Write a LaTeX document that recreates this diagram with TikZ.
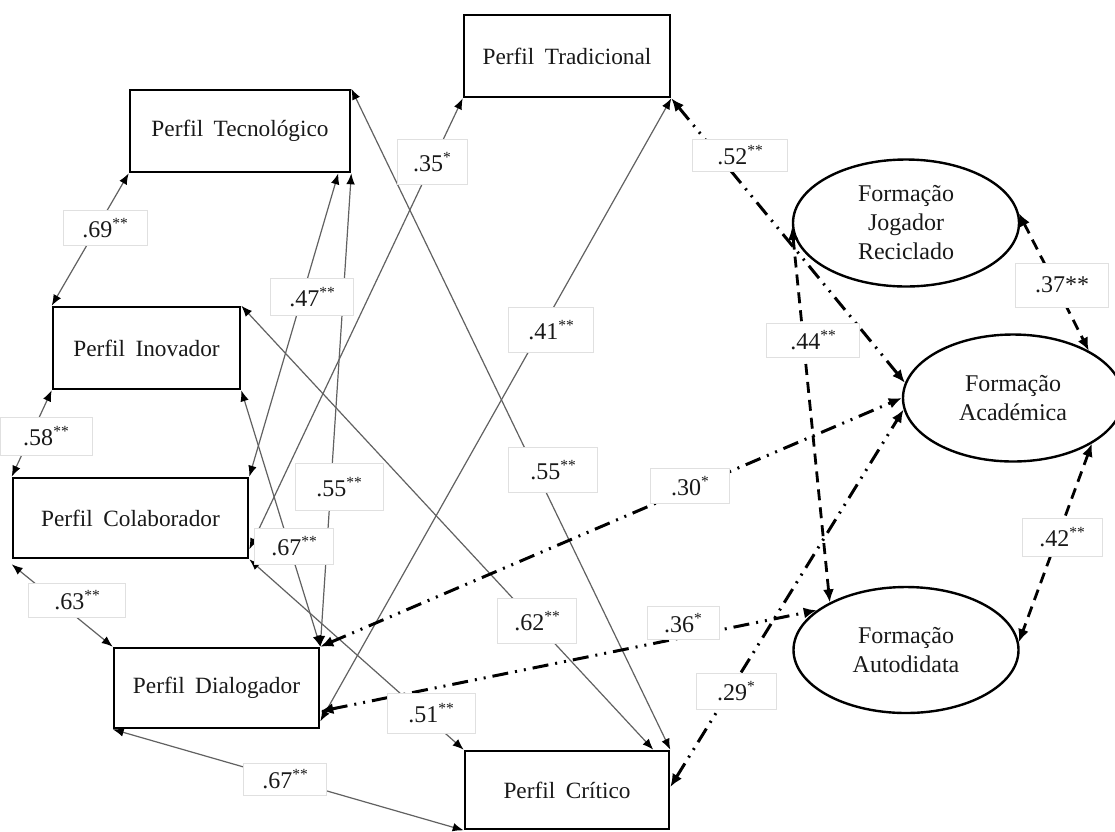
\documentclass[tikz,border=0pt]{standalone}
\usepackage{fontspec}
\setmainfont{Liberation Serif}
\usetikzlibrary{arrows.meta,shapes.geometric,calc}

% significance stars, set small and raised
\newcommand\sig[1]{\raisebox{8.5pt}{\fontsize{15.5}{15.5}\selectfont #1}}
\newcommand\wgap{\hspace{.45em}}

\tikzset{
  pbox/.style={draw=black, line width=2.6pt, inner sep=0pt, text=black!90,
    font=\fontsize{23.3}{28}\selectfont},
  ell/.style={ellipse, draw=black, line width=2.4pt, inner sep=0pt, text=black!90,
    align=center, font=\fontsize{24}{29}\selectfont},
  lbl/.style={draw=black!12, line width=0.8pt, fill=white, inner sep=0pt,
    text=black!90, font=\fontsize{24}{26}\selectfont},
  tipthin/.tip={Latex[length=11pt,width=8.5pt,color=black]},
  tipthick/.tip={Latex[length=13pt,width=11pt,color=black]},
  conn/.style={draw=black!62, line width=1.2pt, tipthin-tipthin},
  ddot/.style={draw=black, line width=3pt,
    dash pattern=on 16pt off 7pt on 2pt off 7pt on 2pt off 7pt, tipthick-tipthick},
  dsh/.style={draw=black, line width=2.8pt,
    dash pattern=on 11pt off 7pt, tipthick-tipthick},
}

\begin{document}
\begin{tikzpicture}[x=1pt,y=-1pt]
\useasboundingbox (0,0) rectangle (1115,831);
\fill[white] (0,0) rectangle (1115,831);
\clip (0,0) rectangle (1115,831);

% teaching profiles
\node[pbox, minimum width=206pt, minimum height=82pt] (trad)  at (567,56)    {Perfil\wgap Tradicional};
\node[pbox, minimum width=220pt, minimum height=82pt] (tec)   at (240,131)   {Perfil\wgap Tecnológico};
\node[pbox, minimum width=187pt, minimum height=82pt] (inov)  at (146.5,348) {Perfil\wgap Inovador};
\node[pbox, minimum width=235pt, minimum height=80pt] (colab) at (130.5,518) {Perfil\wgap Colaborador};
\node[pbox, minimum width=205pt, minimum height=80pt] (dial)  at (216.5,688) {Perfil\wgap Dialogador};
\node[pbox, minimum width=204pt, minimum height=78pt] (crit)  at (567,790)   {Perfil\wgap Crítico};

% training sources
\node[ell, minimum width=226pt, minimum height=127pt] (rec)  at (906,223)  {Formação\\Jogador\\Reciclado};
\node[ell, minimum width=220pt, minimum height=127pt] (acad) at (1013,398) {Formação\\Académica};
\node[ell, minimum width=225pt, minimum height=126pt] (auto) at (906,650)  {Formação\\Autodidata};

% correlations between profiles
\draw[conn] (tec.south west) -- (inov.north west);
\draw[conn] (inov.south west) -- (colab.north west);
\draw[conn] ([yshift=-5pt]colab.south west) -- (dial.north west);
\draw[conn] (dial.south west) -- (crit.south west);
\draw[conn] (tec.north east) -- (crit.north east);
\draw[conn] ([xshift=-13pt]tec.south east) -- (colab.north east);
\draw[conn] (tec.south east) -- (dial.north east);
\draw[conn] (trad.south west) -- ([yshift=10pt]colab.south east);
\draw[conn] (inov.south east) -- (dial.north east);
\draw[conn] (trad.south east) -- ([yshift=8pt]dial.south east);
\draw[conn] (inov.north east) -- ([xshift=-17pt]crit.north east);
\draw[conn] (colab.south east) -- (crit.north west);

% correlations with training sources
\draw[ddot] (trad.south east) -- (acad.172);
\draw[ddot] (dial.north east) -- (acad.west);
\draw[ddot] ([yshift=18pt]dial.south east) -- (auto.156);
\draw[ddot] ([yshift=3pt]crit.east) -- (acad.186);

% correlations among training sources
\draw[dsh] (rec.182) -- (auto.148);
\draw[dsh] (rec.5) -- (acad.32);
\draw[dsh] (acad.-30) -- (auto.4);

% coefficients
\node[lbl, minimum width=84pt, minimum height=35pt] (c69)  at (105,228)  {.69\sig{**}};
\node[lbl, minimum width=92pt, minimum height=38pt] (c58)  at (46,436)   {.58\sig{**}};
\node[lbl, minimum width=97pt, minimum height=34pt] (c63)  at (77,600)   {.63\sig{**}};
\node[lbl, minimum width=83pt, minimum height=32pt] (c67b) at (285,779)  {.67\sig{**}};
\node[lbl, minimum width=83pt, minimum height=37pt] (c47)  at (312,297)  {.47\sig{**}};
\node[lbl, minimum width=88pt, minimum height=47pt] (c55l) at (339,487)  {.55\sig{**}};
\node[lbl, minimum width=79pt, minimum height=36pt] (c67m) at (294,546)  {.67\sig{**}};
\node[lbl, minimum width=70pt, minimum height=45pt] (c35)  at (432,162)  {.35\sig{*}};
\node[lbl, minimum width=85pt, minimum height=45pt] (c41)  at (551,330)  {.41\sig{**}};
\node[lbl, minimum width=89pt, minimum height=45pt] (c55r) at (553,470)  {.55\sig{**}};
\node[lbl, minimum width=79pt, minimum height=45pt] (c62)  at (537,621)  {.62\sig{**}};
\node[lbl, minimum width=88pt, minimum height=40pt] (c51)  at (431,713)  {.51\sig{**}};
\node[lbl, minimum width=95pt, minimum height=32pt] (c52)  at (740,155)  {.52\sig{**}};
\node[lbl, minimum width=79pt, minimum height=35pt] (c30)  at (690,486)  {.30\sig{*}};
\node[lbl, minimum width=72pt, minimum height=33pt] (c36)  at (683,623)  {.36\sig{*}};
\node[lbl, minimum width=80pt, minimum height=36pt] (c29)  at (736,691)  {.29\sig{*}};
\node[lbl, minimum width=93pt, minimum height=34pt] (c44)  at (813,340)  {.44\sig{**}};
\node[lbl, minimum width=93pt, minimum height=44pt] (c37)  at (1062,285) {.37**};
\node[lbl, minimum width=80pt, minimum height=38pt] (c42)  at (1062,537) {.42\sig{**}};
\end{tikzpicture}
\end{document}
